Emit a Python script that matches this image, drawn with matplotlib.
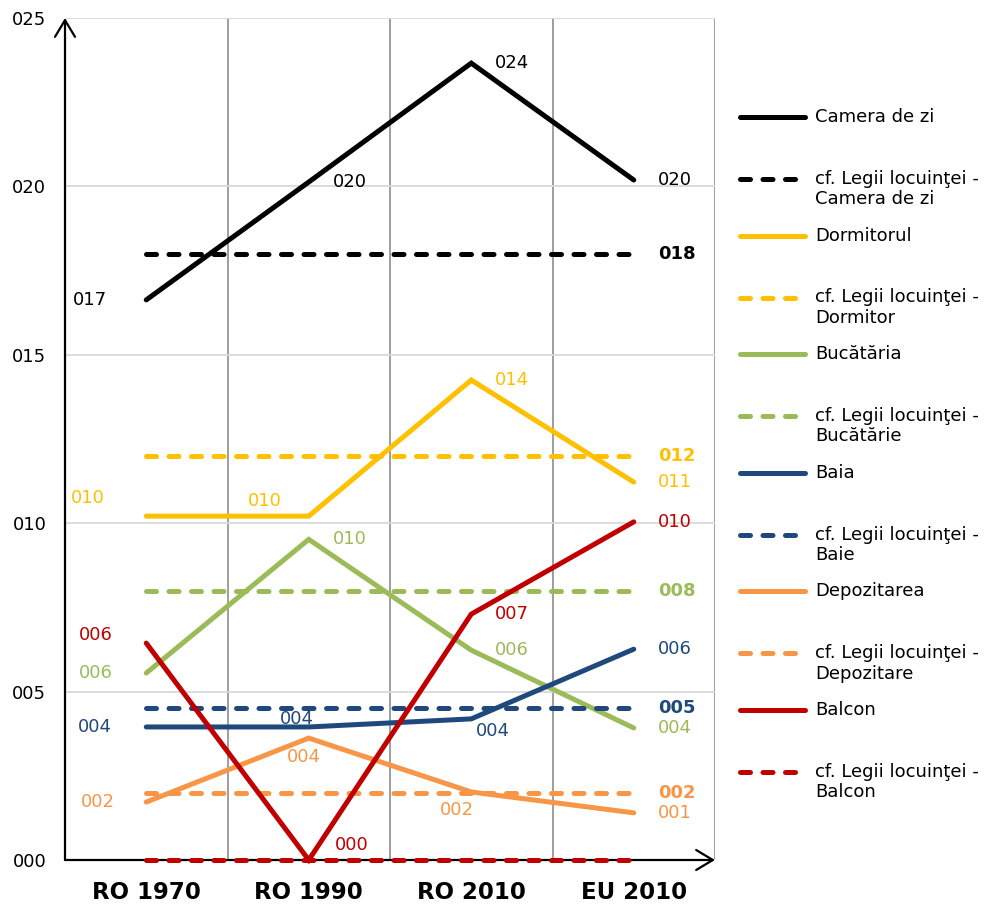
import numpy as np
import matplotlib.pyplot as plt
from matplotlib.ticker import FuncFormatter

plt.rcParams['font.family'] = ['DejaVu Sans']

categories = ["RO 1970", "RO 1990", "RO 2010", "EU 2010"]

camera = [16.63, 20.13, 23.66, 20.19]
dormitor = [10.21, 10.21, 14.25, 11.22]
bucatarie = [5.55, 9.52, 6.23, 3.92]
baie = [3.95, 3.95, 4.19, 6.26]
depozitare = [1.72, 3.62, 2.02, 1.40]
balcon = [6.44, 0.0, 7.30, 10.04]

legal_camera = [18, 18, 18, 18]
legal_dormitor = [12, 12, 12, 12]
legal_bucatarie = [8, 8, 8, 8]
legal_baie = [4.5, 4.5, 4.5, 4.5]
legal_depozitare = [2, 2, 2, 2]
legal_balcon = [0, 0, 0, 0]

series = [camera, dormitor, bucatarie, baie, depozitare, balcon]
legal = [legal_camera, legal_dormitor, legal_bucatarie, legal_baie,
         legal_depozitare, legal_balcon]
names = ["Camera de zi", "Dormitorul", "Bucătăria", "Baia", "Depozitarea", "Balcon"]
legal_names = ["cf. Legii locuinţei -\nCamera de zi",
               "cf. Legii locuinţei -\nDormitor",
               "cf. Legii locuinţei -\nBucătărie",
               "cf. Legii locuinţei -\nBaie",
               "cf. Legii locuinţei -\nDepozitare",
               "cf. Legii locuinţei -\nBalcon"]
colors = ["#000000", "#FFC000", "#9BBB59", "#1F497D", "#F79646", "#C00000"]

# label placement: (dx, dy) in pixels (dy downwards), alignment
label_pos = [
    [(-39, 0, 'right'), (24, 0, 'left'), (24, 0, 'left'), (24, 0, 'left')],
    [(-41, -18, 'right'), (-27, -15, 'right'), (24, 0, 'left'), (24, 0, 'left')],
    [(-33, 0, 'right'), (24, 0, 'left'), (24, 0, 'left'), (24, 0, 'left')],
    [(-34, 0, 'right'), (-29, -8, 'left'), (5, 12, 'left'), (24, 0, 'left')],
    [(-31, 0, 'right'), (-22, 19, 'left'), (-31, 18, 'left'), (24, 0, 'left')],
    [(-34, -8, 'right'), (26, -15, 'left'), (24, 0, 'left'), (24, 0, 'left')],
]


def fmt(v, pos=None):
    return f"{int(v + 0.5):03d}"


fig = plt.figure(figsize=(9.9, 9.08), dpi=100)
ax = fig.add_axes([65 / 990, 48 / 908, 650 / 990, 842 / 908])
x = np.arange(len(categories))
lw = 3.6
dash = (2.0, 2.5)

for i in range(len(series)):
    ax.plot(x, series[i], color=colors[i], lw=lw, solid_capstyle='round',
            solid_joinstyle='miter', clip_on=False, zorder=3)
    for j, v in enumerate(series[i]):
        dx, dy, ha = label_pos[i][j]
        ax.annotate(fmt(v), (x[j], v), xytext=(dx, -dy), textcoords='offset pixels',
                    ha=ha, va='center', fontsize=13, color=colors[i], zorder=4)
    ax.plot(x, legal[i], color=colors[i], lw=lw, dashes=dash,
            dash_capstyle='round', clip_on=False, zorder=3)
    if legal[i][-1] > 0:
        ax.annotate(fmt(legal[i][-1]), (x[-1], legal[i][-1]), xytext=(24, 0),
                    textcoords='offset pixels', ha='left', va='center',
                    fontsize=13, fontweight='bold', color=colors[i], zorder=4)

ax.set_xlim(-0.5, 3.5)
ax.set_ylim(0, 25)
ax.set_yticks(range(0, 26, 5))
ax.yaxis.set_major_formatter(FuncFormatter(fmt))
ax.set_xticks(x)
ax.set_xticklabels(categories, fontsize=16.5, fontweight='bold')
ax.set_xticks([0.5, 1.5, 2.5, 3.5], minor=True)
ax.tick_params(axis='y', length=0, labelsize=13, pad=13.5)
ax.tick_params(axis='x', which='both', length=0, pad=15)
ax.yaxis.grid(True, color='#d9d9d9', lw=1.3)
ax.xaxis.grid(True, which='minor', color='#969696', lw=1.3)
ax.set_axisbelow(True)
for s in ax.spines.values():
    s.set_visible(False)

arrow = dict(arrowstyle='->,head_length=0.6,head_width=0.36', lw=1.6,
             color='black', shrinkA=0, shrinkB=0, mutation_scale=20)
ax.annotate('', xy=(0, 1), xytext=(0, 0), xycoords='axes fraction',
            arrowprops=arrow, zorder=2)
ax.annotate('', xy=(1, 0), xytext=(0, 0), xycoords='axes fraction',
            arrowprops=arrow, zorder=2)

# legend drawn in pixel coordinates
lax = fig.add_axes([0, 0, 1, 1])
lax.set_xlim(0, 990)
lax.set_ylim(908, 0)
lax.axis('off')
step = 118.6
for i in range(len(names)):
    ys = 117 + i * step
    yd = 179 + i * step
    lax.plot([740, 805], [ys, ys], color=colors[i], lw=lw, solid_capstyle='round')
    lax.text(815, ys, names[i], fontsize=13, va='center', ha='left')
    lax.plot([740, 800], [yd, yd], color=colors[i], lw=lw, dashes=dash,
             dash_capstyle='round')
    lax.text(815, yd + 10, legal_names[i], fontsize=13, va='center', ha='left',
             linespacing=1.17)

fig.savefig("out.png", dpi=100)
